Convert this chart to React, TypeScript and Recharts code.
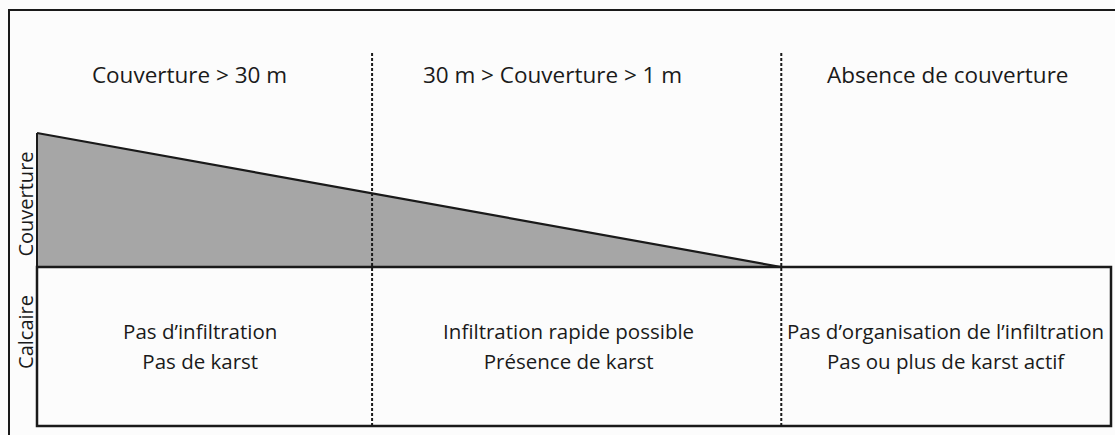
import { ComposedChart, Area, XAxis, YAxis, ReferenceArea, ReferenceLine, ReferenceDot } from "recharts";

// profil de la couverture (x en % de la largeur, épaisseur relative)
const profileX = [0, 69.3];
const coverThickness = [134, 0];

// limites des zones
const zoneBounds = [31.2, 69.3];
const limestoneBottom = -159;
const chartTop = 214;

// titres des zones
const zoneTitles = ["Couverture > 30 m", "30 m > Couverture > 1 m", "Absence de couverture"];
const titleX = [14.2, 48.0, 84.8];
const titleY = 184;

// textes dans le calcaire
const zoneTexts = [
  ["Pas d\u2019infiltration", "Pas de karst"],
  ["Infiltration rapide possible", "Présence de karst"],
  ["Pas d\u2019organisation de l\u2019infiltration", "Pas ou plus de karst actif"],
];
const textX = [15.2, 49.5, 84.6];
const textY = -72;

// étiquettes verticales
const layerNames = ["Couverture", "Calcaire"];
const layerPos = [63, -65];

const FONT = "'Open Sans', sans-serif";
const INK = "#1a1a1a";

const data = profileX.map((x, i) => ({ x, cover: coverThickness[i] }));

const LayerTick = (props: any) => {
  const { y, payload } = props;
  const idx = layerPos.indexOf(payload.value);
  return (
    <text
      x={33}
      y={y}
      transform={`rotate(-90, 33, ${y})`}
      textAnchor="middle"
      fontFamily={FONT}
      fontSize={20}
      fill={INK}
    >
      {layerNames[idx]}
    </text>
  );
};

export default function App() {
  return (
    <div
      style={{
        position: "fixed",
        left: 0,
        top: 0,
        width: 1115,
        height: 435,
        background: "#fcfcfc",
        overflow: "hidden",
      }}
    >
      <div
        style={{
          position: "absolute",
          left: 8,
          top: 9,
          width: 1130,
          height: 450,
          borderTop: `2px solid ${INK}`,
          borderLeft: `2px solid ${INK}`,
        }}
      />
      <div style={{ position: "absolute", left: 0, top: 0 }}>
        <ComposedChart width={1115} height={435} data={data} margin={{ top: 53, right: 4, bottom: 9, left: 0 }}>
          <XAxis type="number" dataKey="x" domain={[0, 100]} hide />
          <YAxis
            type="number"
            domain={[limestoneBottom, chartTop]}
            ticks={layerPos}
            tick={<LayerTick />}
            axisLine={false}
            tickLine={false}
            width={37}
            interval={0}
          />
          <Area
            type="linear"
            dataKey="cover"
            baseValue={0}
            fill="#a6a6a6"
            fillOpacity={1}
            stroke={INK}
            strokeWidth={2.2}
            isAnimationActive={false}
            dot={false}
            activeDot={false}
          />
          <ReferenceLine
            segment={[
              { x: 0, y: 0 },
              { x: 0, y: coverThickness[0] },
            ]}
            stroke={INK}
            strokeWidth={2}
          />
          <ReferenceArea
            x1={0}
            x2={100}
            y1={limestoneBottom}
            y2={0}
            fill="none"
            fillOpacity={0}
            stroke={INK}
            strokeWidth={2.5}
          />
          {zoneBounds.map((b) => (
            <ReferenceLine key={b} x={b} stroke={INK} strokeWidth={2} strokeDasharray="3 2" />
          ))}
          {zoneTitles.map((t, i) => (
            <ReferenceDot
              key={t}
              x={titleX[i]}
              y={titleY}
              r={0}
              shape={(p: any) => (
                <text x={p.cx} y={p.cy} textAnchor="middle" fontFamily={FONT} fontSize={22.5} fill={INK}>
                  {t}
                </text>
              )}
            />
          ))}
          {zoneTexts.map((lines, i) => (
            <ReferenceDot
              key={lines[0]}
              x={textX[i]}
              y={textY}
              r={0}
              shape={(p: any) => (
                <text x={p.cx} y={p.cy} textAnchor="middle" fontFamily={FONT} fontSize={20.5} fill={INK}>
                  <tspan x={p.cx}>{lines[0]}</tspan>
                  <tspan x={p.cx} dy={30}>
                    {lines[1]}
                  </tspan>
                </text>
              )}
            />
          ))}
        </ComposedChart>
      </div>
    </div>
  );
}
